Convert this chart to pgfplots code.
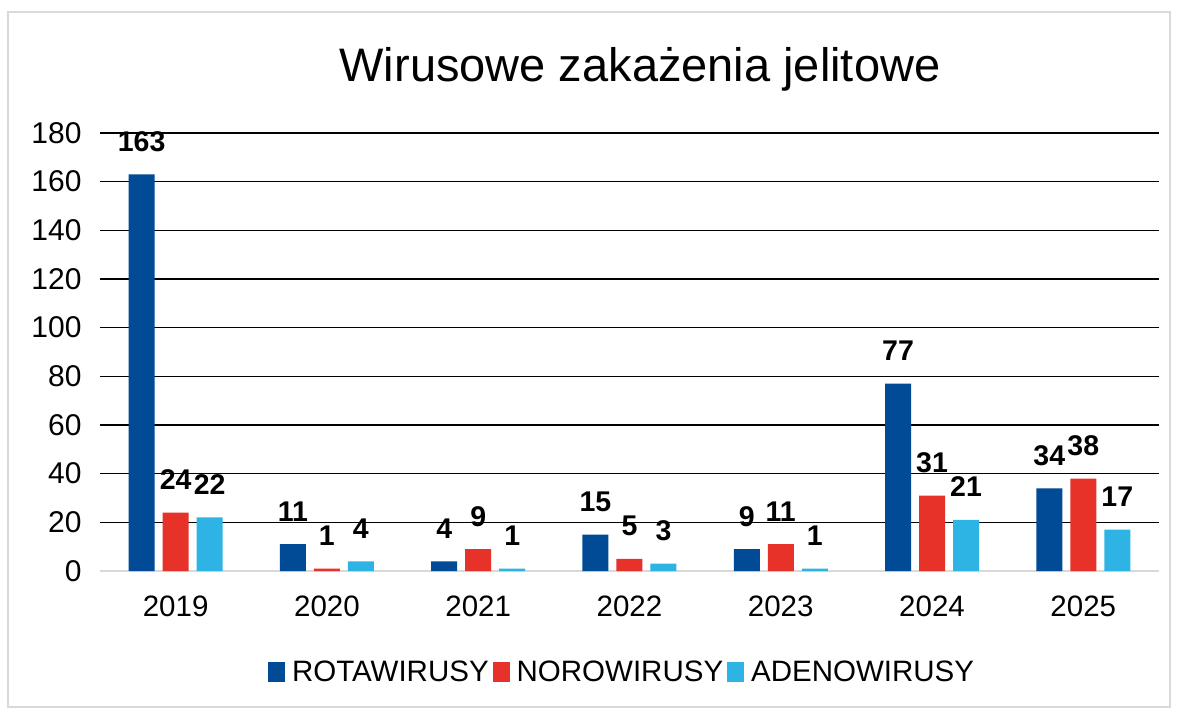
\documentclass[border=0pt]{standalone}
\usepackage{pgfplots}
\pgfplotsset{compat=1.18}
\usepackage{fontspec}
\setmainfont{Liberation Sans}
\definecolor{rota}{RGB}{0,74,150}
\definecolor{noro}{RGB}{230,50,40}
\definecolor{adeno}{RGB}{45,180,228}
\definecolor{framegray}{RGB}{217,217,217}
\begin{document}
\begin{tikzpicture}
\path (0pt,0pt) rectangle (1182pt,715pt);
\draw[framegray,line width=1.5pt] (8pt,8pt) rectangle (1170pt,703pt);
\node[anchor=base,font=\fontsize{47}{52}\selectfont,inner sep=0] at (640pt,633pt) {Wirusowe zakażenia jelitowe};
\begin{axis}[
 at={(100pt,144pt)}, anchor=south west,
 scale only axis, width=1059pt, height=438pt,
 xmin=-0.5, xmax=6.5, ymin=0, ymax=180,
 ybar=8pt, bar width=26pt,
 clip=false,
 xtick={0,1,2,3,4,5,6},
 xticklabels={2019,2020,2021,2022,2023,2024,2025},
 ytick={20,40,60,80,100,120,140,160,180},
 extra y ticks={0},
 extra y tick style={grid=none},
 ymajorgrids,
 major grid style={black, line width=1.5pt},
 axis x line*=bottom, axis y line*=left,
 y axis line style={draw=none},
 x axis line style={framegray, line width=1.5pt, -},
 major tick length=0pt,
 /pgf/number format/assume math mode=true,
 xticklabel style={font=\fontsize{29.5}{32}\selectfont, yshift=-21pt},
 yticklabel style={font=\fontsize{30}{32}\selectfont, xshift=-15pt},
 nodes near coords,
 nodes near coords style={font=\bfseries\fontsize{28.5}{30}\selectfont, anchor=base, yshift=23pt, inner sep=0pt},
 legend columns=3,
 legend style={at={(0.493,-0.231)}, anchor=center, draw=none, fill=none,
   font=\fontsize{29.5}{32}\selectfont,
   /tikz/every odd column/.append style={column sep=5pt},
   /tikz/every even column/.append style={column sep=2pt}},
 legend image code/.code={\fill[#1, draw=none] (0pt,-10pt) rectangle (17pt,10pt);},
]
\addplot[fill=rota, draw=none] coordinates {(0,163) (1,11) (2,4) (3,15) (4,9) (5,77) (6,34)};
\addplot[fill=noro, draw=none] coordinates {(0,24) (1,1) (2,9) (3,5) (4,11) (5,31) (6,38)};
\addplot[fill=adeno, draw=none] coordinates {(0,22) (1,4) (2,1) (3,3) (4,1) (5,21) (6,17)};
\legend{ROTAWIRUSY,NOROWIRUSY,ADENOWIRUSY}
\end{axis}
\end{tikzpicture}
\end{document}
